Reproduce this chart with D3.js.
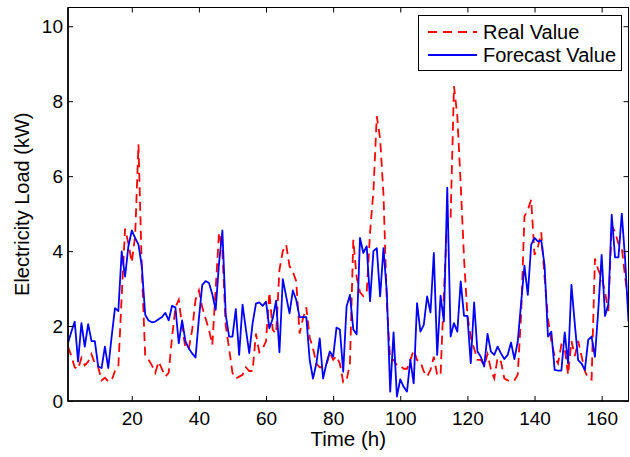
<!DOCTYPE html>
<html>
<head>
<meta charset="utf-8">
<script src="https://cdnjs.cloudflare.com/ajax/libs/d3/7.8.5/d3.min.js"></script>
<style>
  body { margin: 0; background: #fff; }
  svg { display: block; font-family: Arial, "Liberation Sans", Helvetica, sans-serif; }
</style>
</head>
<body>
<svg id="chart" width="630" height="457"></svg>
<script>
// hourly electricity load, hours 1..168
var realValue = [
  1.45, 1.2, 0.9, 0.85, 1.15, 0.95, 1.05, 1.25, 1.0, 0.9, 0.55, 0.62, 0.52, 0.55, 0.8, 0.9, 2.8, 4.6, 4.2, 3.7,
  4.4, 6.85, 3.5, 1.2, 1.1, 0.95, 0.75, 1.05, 0.85, 0.65, 0.75, 1.7, 2.5, 2.7, 2.0, 1.4,
  1.4, 1.9, 2.7, 2.95, 2.5, 2.2, 1.9, 1.5, 3.0, 4.5, 4.0, 2.0, 1.4, 0.75, 0.6, 0.65, 0.7, 0.9, 0.8, 0.8,
  1.8, 1.3, 1.4, 1.6, 2.9, 1.9, 1.8, 3.5, 4.0, 4.17, 3.6, 3.45, 3.2, 1.8, 2.2, 2.5, 1.7, 1.4, 1.0, 0.9,
  0.9, 0.95, 1.3, 1.1, 1.2, 1.0, 0.5, 0.55, 1.0,
  4.3, 3.3, 2.9, 2.8, 2.9, 4.5, 5.6, 7.6, 7.0, 5.5, 2.6, 1.1, 1.1, 0.95, 0.95, 0.86, 0.86, 1.09, 1.36, 1.09,
  1.05, 0.79, 0.65, 0.83, 1.18, 0.69, 0.69, 2.9, 4.88, 4.88, 8.4, 7.6, 5.8, 3.8, 2.3, 1.7, 1.4, 1.1, 1.1,
  0.95, 1.25, 0.85, 0.6, 1.15, 1.05, 0.6, 0.55, 0.53, 0.55, 0.7, 2.3, 4.93, 5.1, 5.37, 3.9, 4.1, 4.5, 3.3, 2.2,
  1.6, 1.2, 1.0, 1.5, 1.4, 0.7, 1.6, 1.2, 1.6, 1.2, 0.8, 0.6, 0.57, 3.8, 3.5, 3.3, 2.9, 2.4, 4.7, 4.5,
  4.2, 4.1, 3.3, 2.6
];
var forecastValue = [
  1.55, 1.85, 2.12, 1.05, 2.08, 1.45, 2.05, 1.6, 1.6, 0.92, 0.88, 1.45, 0.88, 1.72, 2.48, 2.4, 3.99, 3.32, 4.13, 4.55,
  4.35, 4.17, 3.59, 2.3, 2.15, 2.1, 2.12, 2.18, 2.24, 2.35, 2.15, 2.54, 2.5, 1.54, 2.15, 1.59, 1.4, 1.27, 1.16, 2.2,
  3.1, 3.2, 3.15,
  2.85, 2.43, 3.68, 4.55, 2.3, 1.72, 1.72, 2.45, 1.23, 2.57, 1.92, 1.28, 2.07, 2.6, 2.63, 2.54, 2.65, 1.94, 2.2, 2.68,
  1.3, 3.25, 2.79, 2.34, 2.95, 2.7, 2.24, 2.24, 2.24, 1.1, 0.6, 1.0, 1.67, 0.6, 1.0, 1.32, 1.18, 1.96, 1.91, 0.78,
  2.52, 2.83, 1.91, 1.78,
  4.35, 3.95, 4.13, 2.66, 4.0, 4.08, 2.79, 4.08, 2.88, 0.25, 1.83, 0.12, 0.58, 0.38, 0.25, 1.1, 0.47, 2.61, 1.85, 2.03,
  2.79, 2.36, 3.95, 1.23, 2.81, 2.12, 5.69, 1.72, 2.08, 1.85, 3.19, 2.27, 2.27, 1.01,
  2.63, 1.32, 1.18, 0.92, 1.79, 1.32, 1.23, 1.45, 1.27, 1.12, 1.23, 1.56, 1.12, 1.58, 2.61, 3.61, 2.83, 4.17, 4.35, 4.26,
  4.28, 3.61, 1.72, 1.85, 0.83, 0.81, 0.81, 1.83, 1.0, 3.1, 2.06, 1.09, 1.0, 0.83, 1.63, 1.72, 1.18, 2.43, 3.9, 2.27,
  2.58, 4.97, 3.83, 3.83, 5.0, 3.77, 2.12
];
var xTicks = [20, 40, 60, 80, 100, 120, 140, 160];
var yTicks = [0, 2, 4, 6, 8, 10];
var seriesNames = ['Real Value', 'Forecast Value'];

var svg = d3.select('#chart');
var plotL = 68, plotR = 628.5, plotT = 7.5, plotB = 401;

var x = d3.scaleLinear().domain([1, 168]).range([plotL, plotR]);
var y = d3.scaleLinear().domain([0, 10.5]).range([plotB, plotT]);

var hours = d3.range(1, 169);

svg.append('defs').append('clipPath').attr('id', 'plotclip')
  .append('rect')
    .attr('x', plotL).attr('y', plotT)
    .attr('width', plotR - plotL).attr('height', plotB - plotT);

var line = d3.line()
  .x(function(d, i) { return x(hours[i]); })
  .y(function(d) { return y(d); });

var plot = svg.append('g').attr('clip-path', 'url(#plotclip)');

plot.append('path')
  .datum(realValue)
  .attr('d', line)
  .style('fill', 'none')
  .style('stroke', '#ff0000')
  .style('stroke-width', 1.8)
  .style('stroke-dasharray', '9,5.5');

plot.append('path')
  .datum(forecastValue)
  .attr('d', line)
  .style('fill', 'none')
  .style('stroke', '#0000ff')
  .style('stroke-width', 1.8)
  .style('stroke-linejoin', 'round');

// axes, ticks pointing inward like matlab
var styleAxis = function(g) {
  g.select('.domain').remove();
  g.selectAll('line').style('stroke', '#000').style('stroke-width', 1);
  g.selectAll('text').style('font-size', '19px').style('fill', '#000');
};

svg.append('g')
  .attr('transform', 'translate(0,' + plotB + ')')
  .call(d3.axisBottom(x).tickValues(xTicks).tickSizeInner(-5).tickSizeOuter(0).tickPadding(10.5))
  .call(styleAxis);

svg.append('g')
  .attr('transform', 'translate(0,' + plotT + ')')
  .call(d3.axisTop(x).tickValues(xTicks).tickSizeInner(-5).tickSizeOuter(0).tickFormat(''))
  .call(styleAxis);

svg.append('g')
  .attr('transform', 'translate(' + plotL + ',0)')
  .call(d3.axisLeft(y).tickValues(yTicks).tickSizeInner(-5).tickSizeOuter(0).tickPadding(5))
  .call(styleAxis);

svg.append('g')
  .attr('transform', 'translate(' + plotR + ',0)')
  .call(d3.axisRight(y).tickValues(yTicks).tickSizeInner(-5).tickSizeOuter(0).tickFormat(''))
  .call(styleAxis);

svg.append('rect')
  .attr('x', plotL).attr('y', plotT)
  .attr('width', plotR - plotL).attr('height', plotB - plotT)
  .style('fill', 'none')
  .style('stroke', '#000')
  .style('stroke-width', 1);

// left and bottom edges are drawn a bit heavier in the original
svg.append('path')
  .attr('d', 'M' + plotL + ',' + plotT + 'V' + plotB + 'H' + plotR)
  .style('fill', 'none')
  .style('stroke', '#000')
  .style('stroke-width', 1.6);

svg.append('text')
  .attr('x', (plotL + plotR) / 2)
  .attr('y', 446)
  .attr('text-anchor', 'middle')
  .style('font-size', '20.5px')
  .text('Time (h)');

svg.append('text')
  .attr('transform', 'translate(29,' + ((plotT + plotB) / 2) + ') rotate(-90)')
  .attr('text-anchor', 'middle')
  .style('font-size', '20px')
  .text('Electricity Load (kW)');

// legend
var legend = svg.append('g');
legend.append('rect')
  .attr('x', 418.5).attr('y', 15.5)
  .attr('width', 203).attr('height', 55)
  .style('fill', '#fff')
  .style('stroke', '#000')
  .style('stroke-width', 1);

var legendStyles = [
  {color: '#ff0000', dash: '9,6'},
  {color: '#0000ff', dash: null}
];

seriesNames.forEach(function(name, i) {
  var ly = 32 + i * 23;
  legend.append('line')
    .attr('x1', 428).attr('x2', 477)
    .attr('y1', ly).attr('y2', ly)
    .style('stroke', legendStyles[i].color)
    .style('stroke-width', 1.8)
    .style('stroke-dasharray', legendStyles[i].dash);
  legend.append('text')
    .attr('x', 483)
    .attr('y', ly)
    .attr('dy', '0.35em')
    .style('font-size', '20px')
    .text(name);
});
</script>
</body>
</html>
